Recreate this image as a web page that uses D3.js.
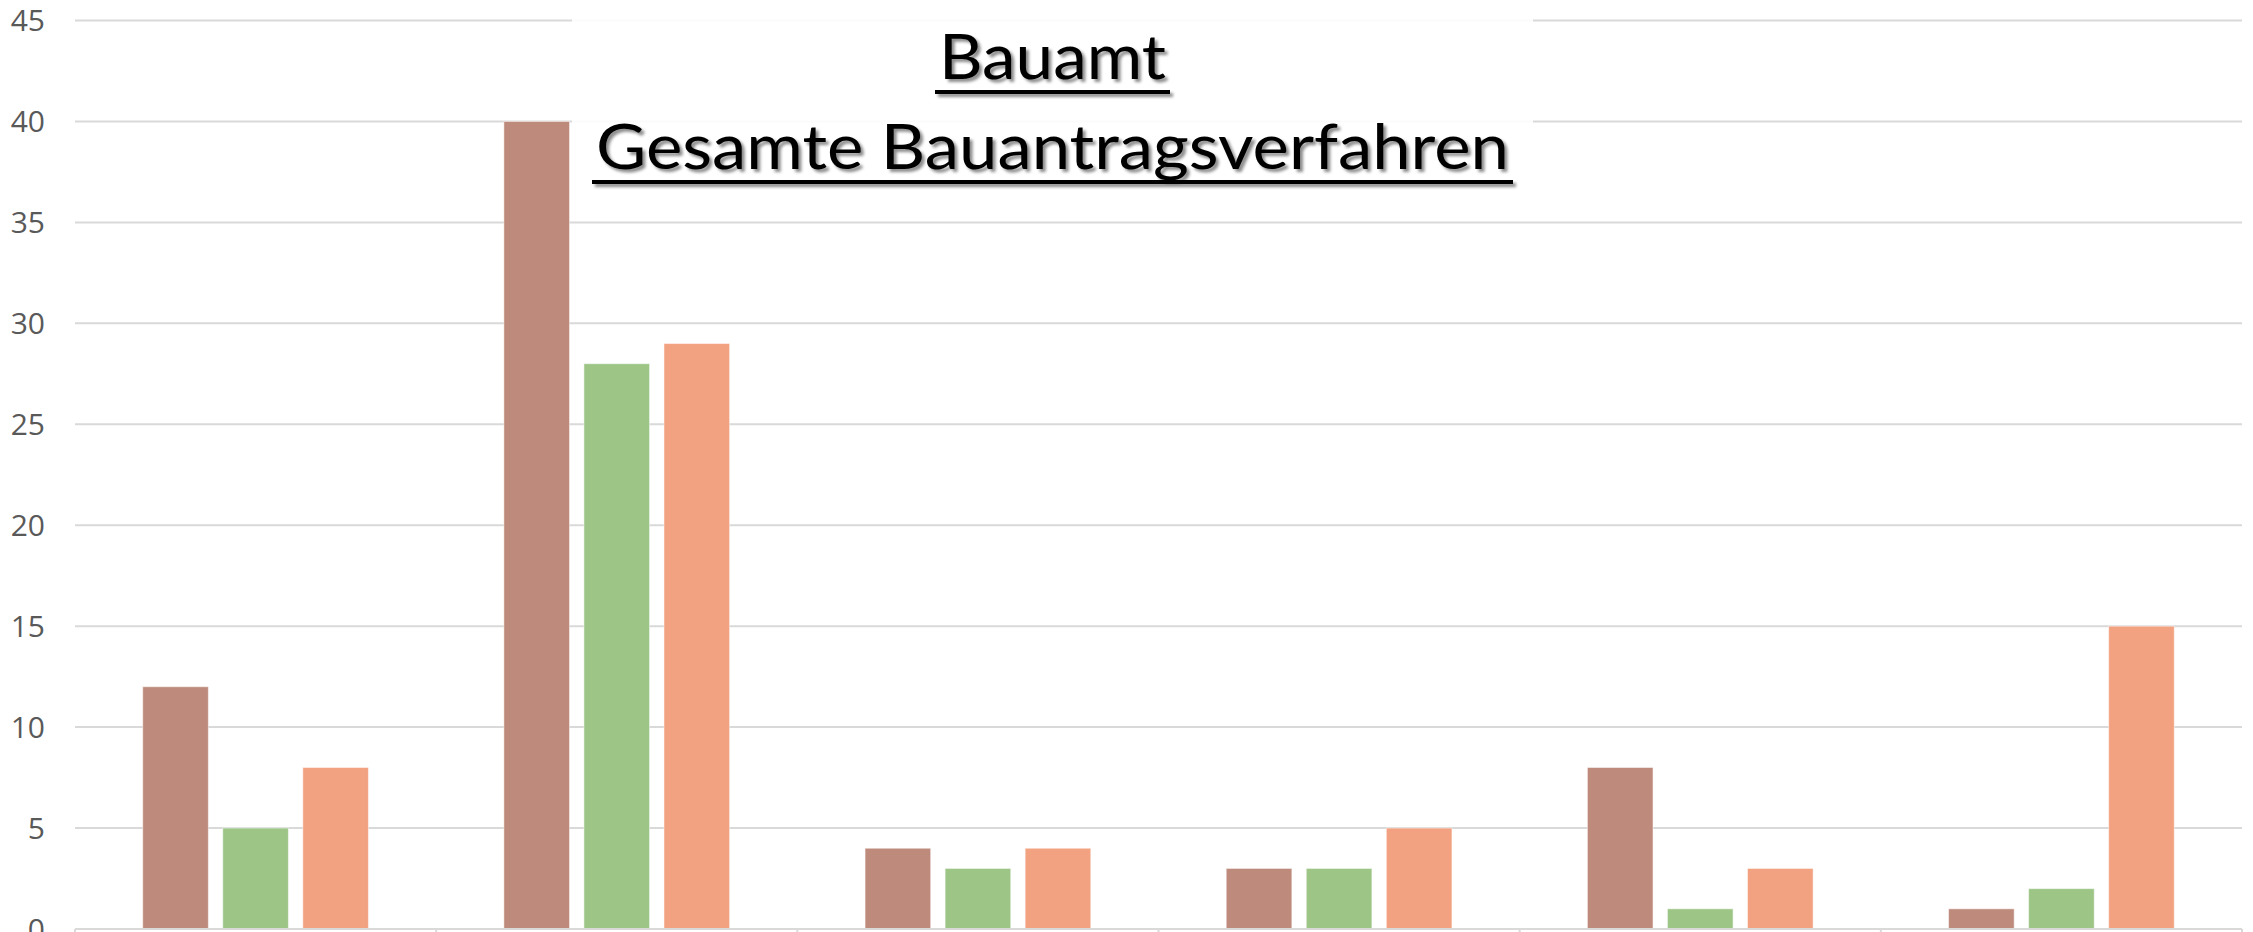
<!DOCTYPE html>
<html>
  <head>
    <meta charset="utf-8">
    <script type="text/javascript" src="https://d3js.org/d3.v7.min.js"></script>
  </head>
  <style>
    body { margin: 0; background: #fff; }
    svg { display: block; }
    .ylab { font: 30px "Open Sans", sans-serif; fill: #595959; }
    .title { font: 62px Lato, "Open Sans", sans-serif; fill: #000; }
  </style>
  <body>
    <script type="text/javascript">
      // data
      var categories = ["G1", "G2", "G3", "G4", "G5", "G6"];
      var seriesNames = ["Reihe 1", "Reihe 2", "Reihe 3"];
      var reihe1 = [12, 40, 4, 3, 8, 1];
      var reihe2 = [5, 28, 3, 3, 1, 2];
      var reihe3 = [8, 29, 4, 5, 3, 15];
      var yTicks = [0, 5, 10, 15, 20, 25, 30, 35, 40, 45];
      var titleLines = ["Bauamt", "Gesamte Bauantragsverfahren"];

      var colors = ["#be8a7c", "#9cc586", "#f2a281"];
      var series = [reihe1, reihe2, reihe3];

      var width = 2253, height = 932;
      // note: "top" is reserved on window, so plot edges get their own names
      var plotLeft = 75, plotRight = 2242, plotTop = 20.5, plotBottom = 929;

      var svg = d3.select("body").append("svg")
                  .attr("width", width)
                  .attr("height", height);

      // shadow for the title
      var defs = svg.append("defs");
      var f = defs.append("filter").attr("id", "shadow")
                  .attr("x", "-10%").attr("y", "-30%")
                  .attr("width", "130%").attr("height", "160%");
      f.append("feDropShadow")
        .attr("dx", 3).attr("dy", 3)
        .attr("stdDeviation", 1.6)
        .attr("flood-color", "#000")
        .attr("flood-opacity", 0.45);

      var x0 = d3.scaleBand().domain(categories).range([plotLeft, plotRight]).padding(0);
      var bw = x0.bandwidth();
      var x1 = d3.scaleBand().domain(seriesNames)
                 .range([bw * 0.1875, bw * 0.8125])
                 .paddingInner(0.18).paddingOuter(0);
      var y = d3.scaleLinear().domain([0, 45]).range([plotBottom, plotTop]);

      // gridlines
      svg.append("g").selectAll("line")
        .data(yTicks.filter(function(d){ return d > 0; }))
        .enter().append("line")
        .attr("x1", plotLeft).attr("x2", plotRight)
        .attr("y1", function(d){ return y(d); })
        .attr("y2", function(d){ return y(d); })
        .attr("stroke", "#d9d9d9")
        .attr("stroke-width", 2);

      // y labels
      svg.append("g").selectAll("text")
        .data(yTicks)
        .enter().append("text")
        .attr("class", "ylab")
        .attr("x", 45)
        .attr("y", function(d){ return y(d); })
        .attr("dy", "0.36em")
        .attr("text-anchor", "end")
        .text(function(d){ return d; });

      // bars
      var groups = svg.append("g").selectAll("g")
        .data(categories)
        .enter().append("g")
        .attr("transform", function(d){ return "translate(" + x0(d) + ",0)"; });

      groups.selectAll("rect")
        .data(function(d, i){
          return seriesNames.map(function(s, j){ return {s: s, j: j, v: series[j][i]}; });
        })
        .enter().append("rect")
        .attr("x", function(d){ return x1(d.s); })
        .attr("width", x1.bandwidth())
        .attr("y", function(d){ return y(d.v); })
        .attr("height", function(d){ return y(0) - y(d.v); })
        .attr("fill", function(d){ return colors[d.j]; })
        .attr("stroke", "#fff")
        .attr("stroke-opacity", 0.5)
        .attr("stroke-width", 1);

      // x axis line and ticks
      svg.append("line")
        .attr("x1", plotLeft).attr("x2", plotRight)
        .attr("y1", y(0)).attr("y2", y(0))
        .attr("stroke", "#d9d9d9").attr("stroke-width", 2);
      var bounds = categories.map(function(c){ return x0(c); }).concat([plotRight]);
      svg.append("g").selectAll("line")
        .data(bounds)
        .enter().append("line")
        .attr("x1", function(d){ return d; }).attr("x2", function(d){ return d; })
        .attr("y1", y(0)).attr("y2", height)
        .attr("stroke", "#d9d9d9").attr("stroke-width", 2);

      // title box
      svg.append("rect")
        .attr("x", 572).attr("y", 0)
        .attr("width", 961).attr("height", 196)
        .attr("fill", "#fff").attr("fill-opacity", 0.88);

      var tg = svg.append("g").attr("filter", "url(#shadow)");
      var cx = 1052.5;
      var baselines = [79, 169];
      var lengths = [227, 913];
      titleLines.forEach(function(t, i){
        tg.append("text")
          .attr("class", "title")
          .attr("x", cx)
          .attr("y", baselines[i])
          .attr("text-anchor", "middle")
          .attr("textLength", lengths[i])
          .attr("lengthAdjust", "spacingAndGlyphs")
          .text(t);
        tg.append("rect")
          .attr("x", cx - lengths[i] / 2 - 4)
          .attr("y", baselines[i] + 11)
          .attr("width", lengths[i] + 8)
          .attr("height", 4)
          .attr("fill", "#000");
      });
    </script>
  </body>
</html>
